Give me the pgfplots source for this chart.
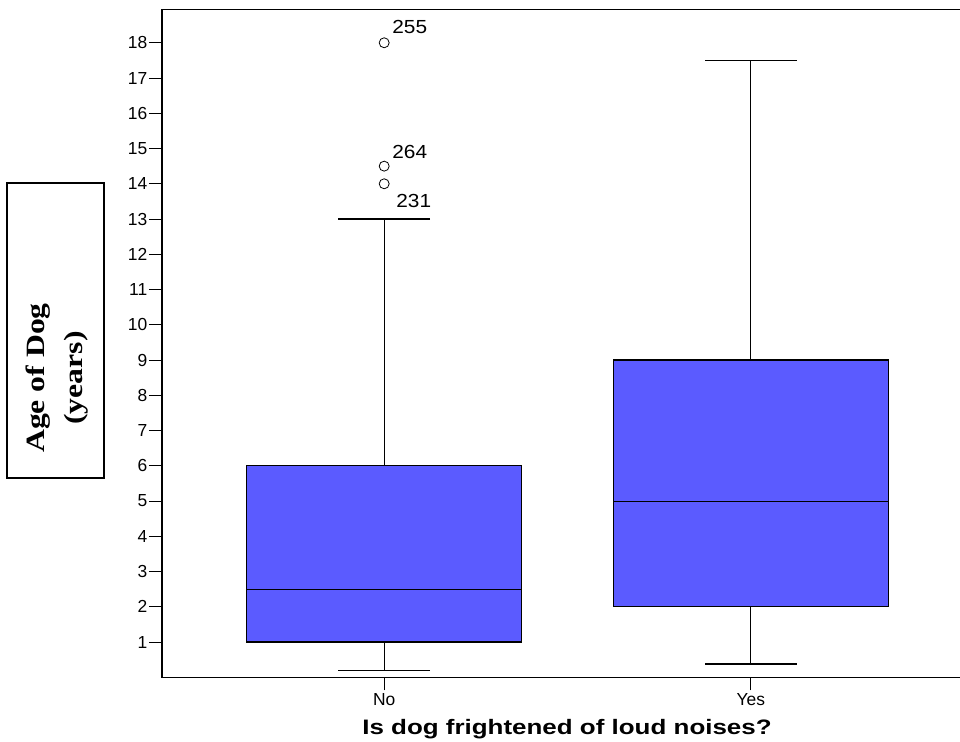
\documentclass[border=0pt]{standalone}
\usepackage{pgfplots}
\pgfplotsset{compat=1.18}
\usepgfplotslibrary{statistics}
\usepackage{fontspec}
\setmainfont{Liberation Sans}
\newfontfamily\timesfont{Liberation Serif}
\definecolor{boxblue}{HTML}{5B5BFF}
\begin{document}
\begin{tikzpicture}[x=1bp,y=1bp]
\begin{axis}[
  at={(0,0)}, anchor=south west,
  scale only axis, width=811bp, height=668bp,
  xmin=0.394, xmax=2.606, ymin=0, ymax=18.95,
  xtick={1,2}, xticklabels={No,Yes},
  ytick={1,2,...,18},
  tick align=outside, xtick pos=lower, ytick pos=left,
  major tick length=13bp,
  axis line style={line width=1.3bp, black},
  every tick/.style={black, line width=1bp},
  /pgf/number format/assume math mode=true,
  ticklabel style={font=\fontsize{17.5}{17.5}\selectfont},
  yticklabel style={inner sep=1.5bp},
  xticklabel style={inner sep=3bp},
  boxplot/draw direction=y,
  boxplot/every median/.style={line width=0.8bp},
  clip=false,
]
\addplot[boxplot prepared={draw position=1, lower whisker=0.2, lower quartile=1, median=2.5, upper quartile=6, upper whisker=13, box extend=0.75, whisker extend=0.25},
  draw=black, fill=boxblue, line width=1.2bp, mark=o, mark size=5bp,
  mark options={draw=black, fill=none, line width=0.8bp}]
  table[row sep=\\, y index=0] {data\\ 14\\ 14.5\\ 18\\};
\addplot[boxplot prepared={draw position=2, lower whisker=0.38, lower quartile=2, median=5, upper quartile=9, upper whisker=17.5, box extend=0.75, whisker extend=0.25},
  draw=black, fill=boxblue, line width=1.2bp]
  coordinates {};
\node[anchor=west, inner sep=0] at (axis cs:1,18) [xshift=8bp, yshift=15.5bp] {\scalebox{1.1}[1]{\fontsize{19}{19}\selectfont 255}};
\node[anchor=west, inner sep=0] at (axis cs:1,14.5) [xshift=8bp, yshift=14bp] {\scalebox{1.1}[1]{\fontsize{19}{19}\selectfont 264}};
\node[anchor=west, inner sep=0] at (axis cs:1,14) [xshift=12bp, yshift=-17bp] {\scalebox{1.1}[1]{\fontsize{19}{19}\selectfont 231}};
\end{axis}
\draw[line width=1.2bp] (-155,199.3) rectangle (-58,494.3);
\node[rotate=90, inner sep=0] at (-106,299.3) {\scalebox{1.2}[1]{\timesfont\bfseries\fontsize{26.5}{38}\selectfont\begin{tabular}{@{}c@{}}Age of Dog\\(years)\end{tabular}}};
\node[inner sep=0] at (405,-52.2) {\scalebox{1.24}[1]{\bfseries\fontsize{21}{21}\selectfont Is dog frightened of loud noises?}};
\pgfresetboundingbox
\path (-162,-64.7) rectangle (798,677.3);
\end{tikzpicture}
\end{document}
